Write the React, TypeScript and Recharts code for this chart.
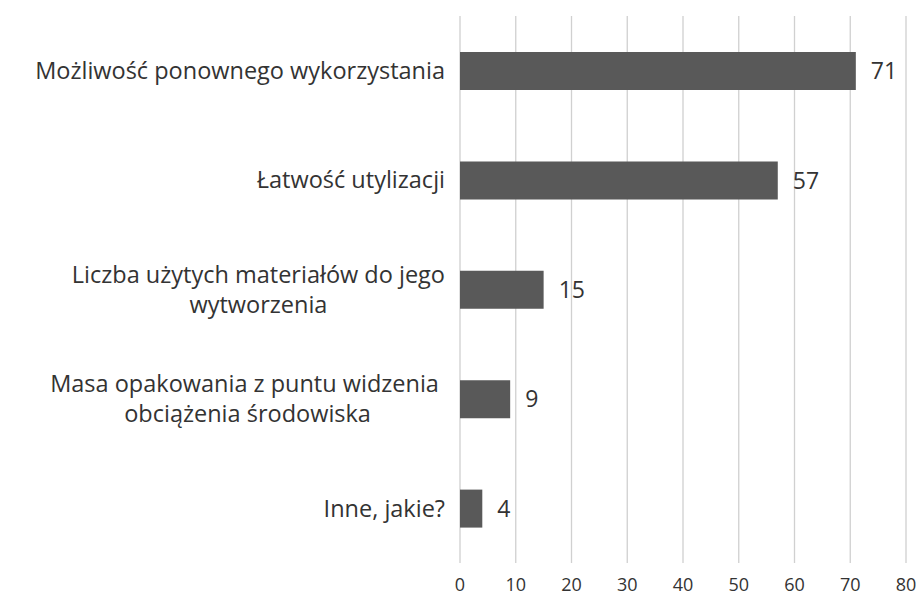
import { BarChart, Bar, XAxis, YAxis, CartesianGrid, LabelList } from 'recharts';

const categories = [
  'Możliwość ponownego wykorzystania',
  'Łatwość utylizacji',
  'Liczba użytych materiałów do jego\nwytworzenia',
  'Masa opakowania z puntu widzenia \nobciążenia środowiska',
  'Inne, jakie?',
];
const values = [71, 57, 15, 9, 4];
const xTicks = [0, 10, 20, 30, 40, 50, 60, 70, 80];

const data = categories.map((name, i) => ({ name, value: values[i] }));

const FONT = '"Open Sans", sans-serif';
const TEXT = '#333333';

let ctx: CanvasRenderingContext2D | null = null;
function measure(s: string, size: number) {
  if (!ctx) ctx = document.createElement('canvas').getContext('2d');
  if (!ctx) return s.length * size * 0.5;
  ctx.font = `${size}px ${FONT}`;
  return ctx.measureText(s).width;
}

function CategoryTick({ x, y, payload }: any) {
  const size = 23.5;
  const lines: string[] = String(payload.value).split('\n');
  const block = Math.max(...lines.map((l) => measure(l, size)));
  const cx = x - 7 - block / 2;
  const lh = 30;
  const start = y - ((lines.length - 1) * lh) / 2;
  return (
    <text x={cx} y={start} textAnchor="middle" fill={TEXT} fontSize={size} fontFamily={FONT} style={{ whiteSpace: 'pre' }}>
      {lines.map((l, i) => (
        <tspan key={i} x={cx} y={start + i * lh} dy="0.35em">
          {l}
        </tspan>
      ))}
    </text>
  );
}

export default function App() {
  return (
    <div style={{ position: 'absolute', left: 0, top: 0, background: '#fff' }}>
      <BarChart
        width={918}
        height={599}
        data={data}
        layout="vertical"
        margin={{ top: 16, right: 12, bottom: 0, left: 0 }}
      >
        <CartesianGrid horizontal={false} stroke="#d0d0d0" strokeWidth={1.3} />
        <XAxis
          type="number"
          domain={[0, 80]}
          ticks={xTicks}
          axisLine={false}
          tickLine={false}
          tickMargin={9}
          height={36}
          interval={0}
          tick={{ fill: TEXT, fontSize: 18, fontFamily: FONT }}
        />
        <YAxis
          type="category"
          dataKey="name"
          width={460}
          axisLine={false}
          tickLine={false}
          tick={<CategoryTick />}
          interval={0}
        />
        <Bar dataKey="value" fill="#595959" barSize={38} isAnimationActive={false}>
          <LabelList
            dataKey="value"
            position="right"
            offset={15}
            fill={TEXT}
            fontSize={23}
            fontFamily={FONT}
          />
        </Bar>
      </BarChart>
    </div>
  );
}
